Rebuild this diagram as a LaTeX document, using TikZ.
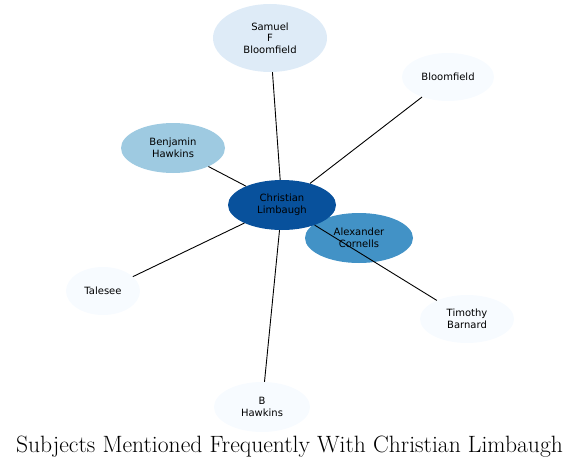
\documentclass[tikz,border=0pt]{standalone}
\usepackage{fontspec}
\usetikzlibrary{shapes.geometric}
\newfontfamily\dvfont{DejaVu Sans}
\definecolor{bl1}{HTML}{F7FBFF}
\definecolor{bl2}{HTML}{DEEBF7}
\definecolor{bl4}{HTML}{9ECAE1}
\definecolor{bl6}{HTML}{4292C6}
\definecolor{bl8}{HTML}{08519C}
\tikzset{
  ent/.style={ellipse, inner sep=0pt, align=center, text=black,
    font=\dvfont\fontsize{10}{11.7}\selectfont},
  link/.style={draw=black, line width=0.9pt}
}
\begin{document}
\begin{tikzpicture}[x=1pt,y=-1pt]
\useasboundingbox (0,0) rectangle (580,468);
\node[ent, fill=bl2, minimum width=114pt, minimum height=68pt] (sfb) at (270,38) {Samuel\\F\\Bloomfield};
\node[ent, fill=bl1, minimum width=92pt, minimum height=48pt] (bf) at (448,77) {Bloomfield};
\node[ent, fill=bl4, minimum width=104pt, minimum height=50pt] (bh) at (173,148) {Benjamin\\Hawkins};
\node[ent, fill=bl6, minimum width=108pt, minimum height=50pt] (ac) at (359,238) {Alexander\\Cornells};
\node[ent, fill=bl8, minimum width=108pt, minimum height=50pt] (cl) at (282,205) {Christian\\Limbaugh};
\node[ent, fill=bl1, minimum width=74pt, minimum height=48pt] (ta) at (103,291) {Talesee};
\node[ent, fill=bl1, minimum width=94pt, minimum height=48pt] (tb) at (467,319) {Timothy\\Barnard};
\node[ent, fill=bl1, minimum width=96pt, minimum height=50pt] (bhk) at (262,407) {B\\Hawkins};
\draw[link] (cl) -- (sfb);
\draw[link] (cl) -- (bf);
\draw[link] (cl) -- (bh);
\draw[link] (cl) -- (ta);
\draw[link] (cl) -- (bhk);
\draw[link] (cl) -- (tb);
\node[font=\fontsize{23.6}{28}\selectfont, anchor=base, inner sep=0pt] (title) at (289.5,452) {Subjects Mentioned Frequently With Christian Limbaugh};
\end{tikzpicture}
\end{document}
